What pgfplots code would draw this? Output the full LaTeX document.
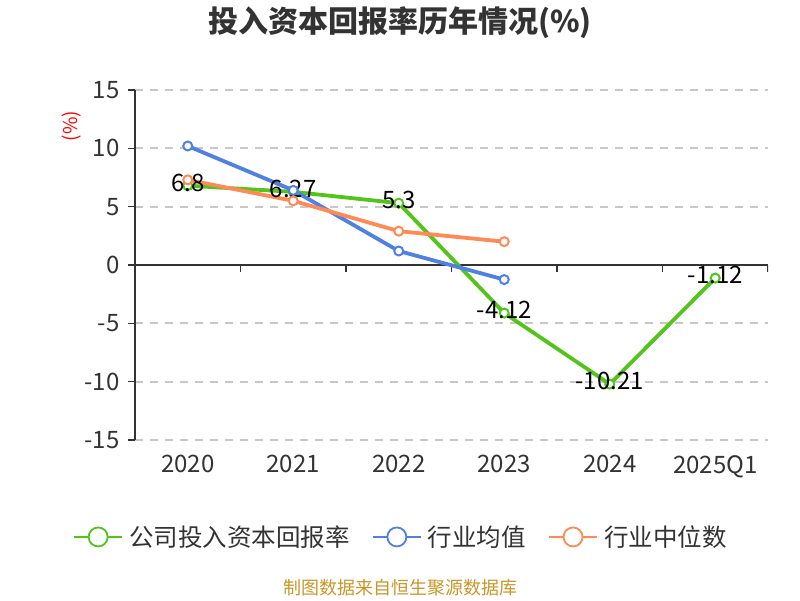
\documentclass[border=0pt]{standalone}
\usepackage{pgfplots}
\pgfplotsset{compat=1.18}
\usepackage{fontspec}
\setmainfont{Noto Sans CJK SC}
\definecolor{cgreen}{RGB}{82,196,26}
\definecolor{cblue}{RGB}{79,129,229}
\definecolor{corange}{RGB}{255,138,85}
\definecolor{ctext}{RGB}{51,51,51}
\definecolor{cgold}{RGB}{200,150,40}
\definecolor{cgrid}{RGB}{200,200,200}
\begin{document}
\begin{tikzpicture}[x=1pt,y=1pt]
\useasboundingbox (0,0) rectangle (800,600);
\node[font=\fontsize{30}{32}\selectfont\bfseries, text=ctext] at (400,577) {投入资本回报率历年情况(\%)};
\node[font=\fontsize{19}{20}\selectfont, text=red, rotate=90] at (72,474) {(\%)};
\node[font=\fontsize{18}{19}\selectfont, text=cgold] at (400,12) {制图数据来自恒生聚源数据库};
\begin{axis}[
  at={(135pt,160pt)}, anchor=south west,
  scale only axis, width=633pt, height=350pt,
  xmin=-0.5, xmax=5.5, ymin=-15, ymax=15,
  axis y line*=left, axis x line*=bottom,
  x axis line style={draw=none},
  y axis line style={draw=ctext, line width=1.5pt},
  xtick={0,1,2,3,4,5},
  xticklabels={2020,2021,2022,2023,2024,2025Q1},
  xtick style={draw=none},
  ytick={-15,-10,-5,0,5,10,15},
  ytick style={draw=ctext, line width=1.5pt},
  tick align=outside, major tick length=7pt,
  ymajorgrids, grid style={cgrid, dash pattern=on 8pt off 7pt, line width=1.8pt},
  /pgf/number format/assume math mode=true,
  tick label style={font=\fontsize{24}{25}\selectfont, text=ctext},
  yticklabel style={xshift=-5pt},
  xticklabel style={yshift=-5pt},
  legend columns=3,
  legend style={at={(0.42,-0.277)}, anchor=center, draw=none, fill=none,
    font=\fontsize{24.5}{26}\selectfont, text=ctext,
    /tikz/every even column/.append style={column sep=20pt},
    /tikz/every odd column/.append style={column sep=4pt}},
  legend image code/.code={
    \draw[#1, mark=none, line width=2.2pt] (0pt,0pt) -- (48pt,0pt);
    \draw[#1, mark=none, line width=1.8pt, fill=white] (24pt,0pt) circle (9.5pt);
  },
  every axis plot/.append style={line width=3.8pt, mark=*, mark size=4.5pt},
]
\draw[ctext, line width=1.8pt] (axis cs:-0.5,0) -- (axis cs:5.5,0);
\pgfplotsinvokeforeach{0.5,1.5,2.5,3.5,4.5,5.5}{
  \draw[ctext, line width=1.5pt] (axis cs:#1,0) -- ++(0pt,-7pt);
}
\addplot[cgreen, mark options={draw=cgreen, fill=white, line width=2pt}] coordinates {(0,6.8) (1,6.27) (2,5.3) (3,-4.12) (4,-10.21) (5,-1.12)};
\addlegendentry{公司投入资本回报率}
\addplot[forget plot, draw=none, mark=none, nodes near coords, point meta=y,
  every node near coord/.append style={anchor=center, yshift=3pt, font=\fontsize{24}{25}\selectfont, text=black}]
  coordinates {(0,6.8) (1,6.27) (2,5.3) (3,-4.12) (4,-10.21) (5,-1.12)};
\addplot[cblue, mark options={draw=cblue, fill=white, line width=2pt}] coordinates {(0,10.2) (1,6.4) (2,1.2) (3,-1.25)};
\addlegendentry{行业均值}
\addplot[corange, mark options={draw=corange, fill=white, line width=2pt}] coordinates {(0,7.3) (1,5.5) (2,2.9) (3,2.0)};
\addlegendentry{行业中位数}
\end{axis}
\end{tikzpicture}
\end{document}
